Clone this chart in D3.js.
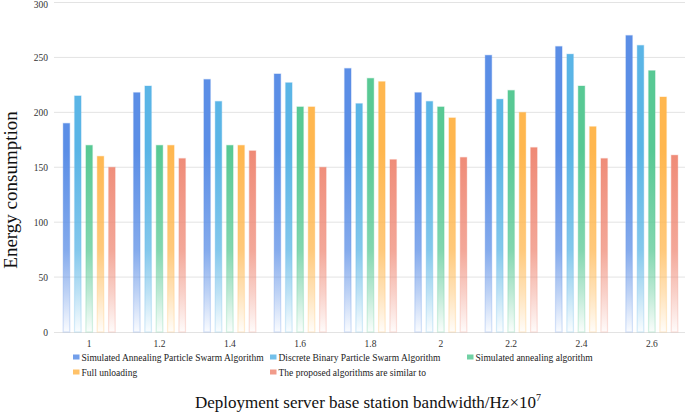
<!DOCTYPE html>
<html><head><meta charset="utf-8">
<script src="https://cdn.jsdelivr.net/npm/d3@7"></script>
<style>html,body{margin:0;padding:0;background:#fff;}svg{display:block;}</style>
</head><body>
<svg id="chart" width="685" height="413"></svg>
<script>
const categories = ["1","1.2","1.4","1.6","1.8","2","2.2","2.4","2.6"];
const seriesNames = [
  "Simulated Annealing Particle Swarm Algorithm",
  "Discrete Binary Particle Swarm Algorithm",
  "Simulated annealing algorithm",
  "Full unloading",
  "The proposed algorithms are similar to"
];
const sapso   = [190, 218, 230, 235, 240, 218, 252, 260, 270];
const dbpso   = [215, 224, 210, 227, 208, 210, 212, 253, 261];
const sa      = [170, 170, 170, 205, 231, 205, 220, 224, 238];
const fullUnl = [160, 170, 170, 205, 228, 195, 200, 187, 214];
const proposed= [150, 158, 165, 150, 157, 159, 168, 158, 161];
const yTicks = [0, 50, 100, 150, 200, 250, 300];
const colors = ["#5b8ee6", "#5ab5e6", "#58c994", "#ffb74f", "#ef8a76"];

const seriesValues = [sapso, dbpso, sa, fullUnl, proposed];
const svg = d3.select("#chart");
const serif = "Liberation Serif, Times New Roman, serif";

const x = d3.scaleBand().domain(categories).range([54, 687]).paddingInner(0).paddingOuter(0);
const xs = d3.scaleBand().domain(d3.range(5)).range([0, 52]).paddingInner(0.42).paddingOuter(0);
const y = d3.scaleLinear().domain([0, 300]).range([332, 2.5]);

// gradients
const defs = svg.append("defs");
colors.forEach((c, i) => {
  const g = defs.append("linearGradient").attr("id", "g" + i)
    .attr("gradientUnits", "userSpaceOnUse")
    .attr("x1", 0).attr("x2", 0).attr("y1", y(300)).attr("y2", y(0));
  g.append("stop").attr("offset", "0.45").attr("stop-color", c).attr("stop-opacity", 1);
  g.append("stop").attr("offset", "0.75").attr("stop-color", c).attr("stop-opacity", 0.75);
  g.append("stop").attr("offset", "0.88").attr("stop-color", c).attr("stop-opacity", 0.4);
  g.append("stop").attr("offset", "1").attr("stop-color", c).attr("stop-opacity", 0.03);
});

// gridlines
svg.append("g").selectAll("line").data(yTicks.filter(d => d > 0)).join("line")
  .attr("x1", 54).attr("x2", 685).attr("y1", d => y(d)).attr("y2", d => y(d))
  .attr("stroke", "#e3e3e3").attr("stroke-width", 1);

// y axis labels
const yAxis = d3.axisLeft(y).tickValues(yTicks).tickSize(0).tickPadding(0);
const ya = svg.append("g").attr("transform", "translate(48,0)").call(yAxis);
ya.select(".domain").remove();
ya.selectAll("text").attr("font-family", serif).attr("font-size", 9.5).attr("fill", "#333")
  .attr("dy", d => d === 300 ? "0.55em" : "0.32em");

// x axis
const xAxis = d3.axisBottom(x).tickSize(0).tickPadding(8);
const xa = svg.append("g").attr("transform", "translate(0,332)").call(xAxis);
xa.select(".domain").attr("stroke", "#e3e3e3").attr("d", "M54,0.5H685");
xa.selectAll("text").attr("font-family", serif).attr("font-size", 9.5).attr("fill", "#333");

// bars
const groups = svg.append("g").selectAll("g").data(categories).join("g")
  .attr("transform", d => `translate(${x(d) + (x.bandwidth() - 52) / 2},0)`);
groups.selectAll("rect").data((d, ci) => seriesValues.map((s, si) => ({si, v: s[ci]}))).join("rect")
  .attr("x", d => xs(d.si)).attr("width", xs.bandwidth())
  .attr("y", d => y(d.v)).attr("height", d => y(0) - y(d.v))
  .attr("fill", d => `url(#g${d.si})`)
  .attr("stroke", d => colors[d.si]).attr("stroke-opacity", 0.25).attr("stroke-width", 1.2);

// legend
const legendPos = [[73, 358], [270, 358], [467, 358], [73, 373], [270, 373]];
const lg = svg.append("g").selectAll("g").data(seriesNames).join("g")
  .attr("transform", (d, i) => `translate(${legendPos[i][0]},${legendPos[i][1]})`);
lg.append("rect").attr("x", 0).attr("y", -3.5).attr("width", 6.5).attr("height", 5)
  .attr("fill", (d, i) => colors[i]).attr("opacity", 0.85);
lg.append("text").attr("x", 8.5).attr("y", 0).attr("dy", "0.32em")
  .attr("font-family", serif).attr("font-size", 9.5).attr("fill", "#222").text(d => d);

// axis titles
svg.append("text").attr("x", 368).attr("y", 408).attr("text-anchor", "middle")
  .attr("font-family", serif).attr("font-size", 17).attr("fill", "#111")
  .text("Deployment server base station bandwidth/Hz×10")
  .append("tspan").attr("dy", -7).attr("font-size", 10).text("7");
svg.append("text").attr("transform", "translate(17,190) rotate(-90)").attr("text-anchor", "middle")
  .attr("font-family", serif).attr("font-size", 19).attr("fill", "#111")
  .text("Energy consumption");
</script>
</body></html>
